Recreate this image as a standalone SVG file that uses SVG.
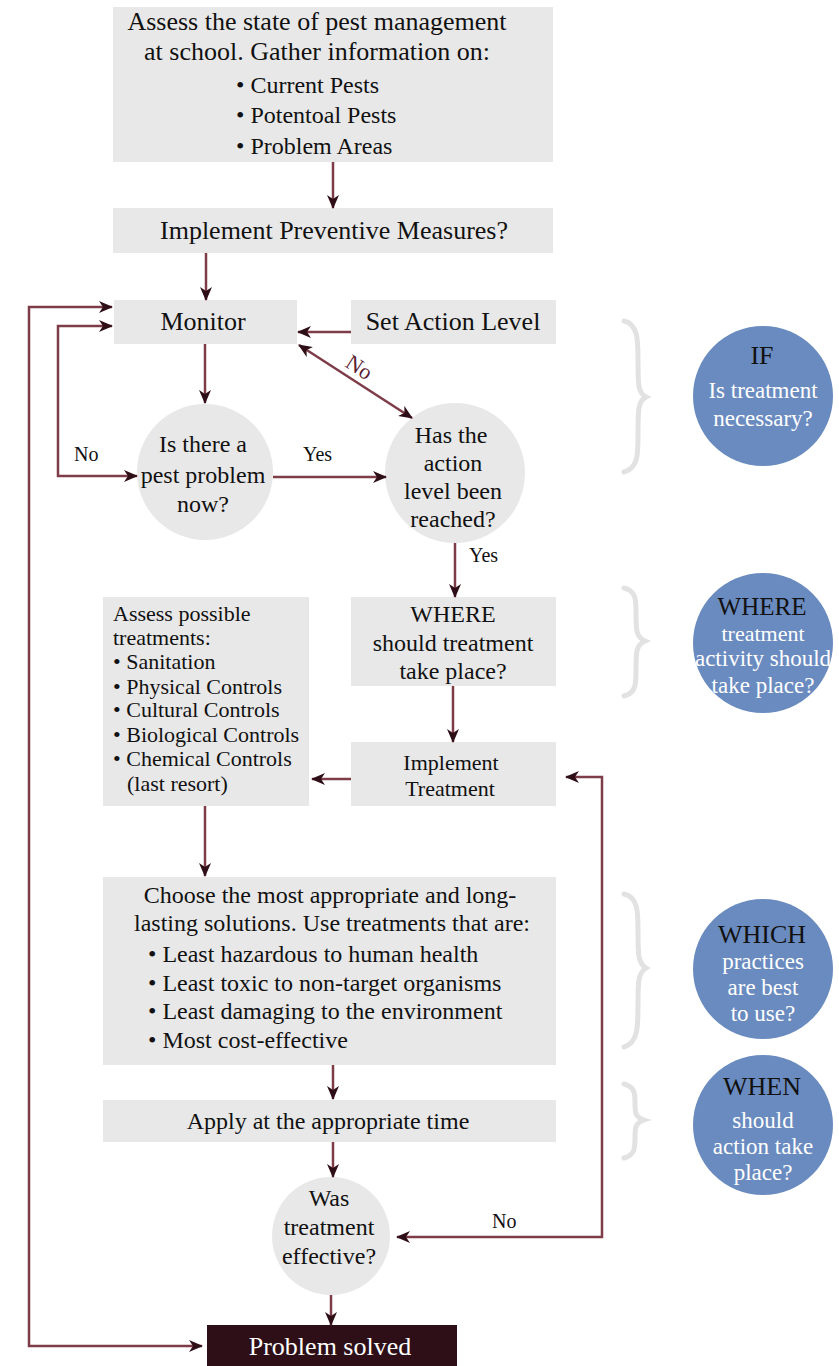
<svg xmlns="http://www.w3.org/2000/svg" width="839" height="1366" viewBox="0 0 839 1366">
<style>
text{font-family:"Liberation Serif","Times New Roman",serif;fill:#111}
.box{fill:#e8e8e8}
.c{text-anchor:middle}
.t22{font-size:26px}
.t21{font-size:24px}
.t19{font-size:22px}
.t17{font-size:20px}
.blue{fill:#6a8bbf}
.hd{font-size:26px;fill:#111;text-anchor:middle}
.wt{font-size:23px;fill:#fff;text-anchor:middle}
.brace{fill:none;stroke:#e2e2e2;stroke-width:5;stroke-linecap:round}
.ln{fill:none;stroke:#7d3c48;stroke-width:2.5}
</style>
<defs>
<marker id="ah" viewBox="0 0 14 12" refX="13" refY="6" markerWidth="14" markerHeight="12" markerUnits="userSpaceOnUse" orient="auto-start-reverse">
<path d="M0,0 L14,6 L0,12 L4,6 z" fill="#2e0f17"/>
</marker>
</defs>

<g id="assess-state">
<rect class="box" x="113" y="7" width="440" height="155"/>
<text class="t22 c" x="317" y="30">Assess the state of pest management</text>
<text class="t22 c" x="317" y="60">at school. Gather information on:</text>
<text class="t21" x="236" y="93">• Current Pests</text>
<text class="t21" x="236" y="123">• Potentoal Pests</text>
<text class="t21" x="236" y="154">• Problem Areas</text>
</g>

<g id="preventive">
<rect class="box" x="113" y="208" width="440" height="45"/>
<text class="t22 c" x="334" y="239">Implement Preventive Measures?</text>
</g>

<g id="monitor">
<rect class="box" x="114" y="300" width="183" height="44"/>
<text class="t22 c" x="203" y="330">Monitor</text>
</g>

<g id="set-action-level">
<rect class="box" x="351" y="300" width="205" height="44"/>
<text class="t22 c" x="453" y="330">Set Action Level</text>
</g>

<g id="pest-problem">
<circle class="box" cx="205" cy="472" r="68"/>
<text class="t21 c" x="203" y="452">Is there a</text>
<text class="t21 c" x="203" y="483">pest problem</text>
<text class="t21 c" x="203" y="512">now?</text>
</g>

<g id="action-level">
<circle class="box" cx="455" cy="473" r="70"/>
<text class="t21 c" x="451" y="443">Has the</text>
<text class="t21 c" x="453" y="471">action</text>
<text class="t21 c" x="453" y="499">level been</text>
<text class="t21 c" x="453" y="527">reached?</text>
</g>

<g id="where-box">
<rect class="box" x="351" y="597" width="205" height="89"/>
<text class="t21 c" x="453" y="622">WHERE</text>
<text class="t21 c" x="453" y="651">should treatment</text>
<text class="t21 c" x="453" y="679">take place?</text>
</g>

<g id="implement-treatment">
<rect class="box" x="351" y="742" width="205" height="64"/>
<text class="t19 c" x="451" y="770">Implement</text>
<text class="t19 c" x="450" y="796">Treatment</text>
</g>

<g id="assess-treatments">
<rect class="box" x="103" y="597" width="206" height="209"/>
<text class="t19" x="113" y="621">Assess possible</text>
<text class="t19" x="113" y="645">treatments:</text>
<text class="t19" x="113" y="669">• Sanitation</text>
<text class="t19" x="113" y="694">• Physical Controls</text>
<text class="t19" x="113" y="717">• Cultural Controls</text>
<text class="t19" x="113" y="742">• Biological Controls</text>
<text class="t19" x="113" y="766">• Chemical Controls</text>
<text class="t19" x="127" y="791">(last resort)</text>
</g>

<g id="choose">
<rect class="box" x="103" y="877" width="453" height="188"/>
<text class="t21 c" x="330" y="903">Choose the most appropriate and long-</text>
<text class="t21 c" x="332" y="931">lasting solutions. Use treatments that are:</text>
<text class="t21" x="148" y="962">• Least hazardous to human health</text>
<text class="t21" x="148" y="991">• Least toxic to non-target organisms</text>
<text class="t21" x="148" y="1019">• Least damaging to the environment</text>
<text class="t21" x="148" y="1048">• Most cost-effective</text>
</g>

<g id="apply">
<rect class="box" x="103" y="1100" width="453" height="42"/>
<text class="t21 c" x="328" y="1129">Apply at the appropriate time</text>
</g>

<g id="effective">
<circle class="box" cx="331" cy="1236" r="59"/>
<text class="t21 c" x="329" y="1206">Was</text>
<text class="t21 c" x="329" y="1235">treatment</text>
<text class="t21 c" x="329" y="1264">effective?</text>
</g>

<g id="problem-solved">
<rect x="207" y="1325" width="250" height="41" fill="#2e0f17"/>
<text class="t22 c" x="330" y="1355" style="fill:#fff">Problem solved</text>
</g>

<g id="braces">
<path class="brace" d="M624,321 C638,324 638,340 638,360 C638,385 638,393 646,397 C638,401 638,410 638,435 C638,455 638,468 624,472"/>
<path class="brace" d="M624,588 C636,591 636,600 636,612 C636,630 636,637 645,641 C636,645 636,652 636,670 C636,684 636,693 624,696"/>
<path class="brace" d="M624,894 C638,897 638,912 638,930 C638,955 638,963 646,968 C638,973 638,981 638,1006 C638,1026 638,1043 624,1047"/>
<path class="brace" d="M624,1084 C635,1087 635,1094 635,1102 C635,1113 635,1117 644,1120 C635,1123 635,1128 635,1138 C635,1148 635,1155 624,1158"/>
</g>

<g id="if-circle">
<circle class="blue" cx="763" cy="396" r="70"/>
<text class="hd" x="762" y="364">IF</text>
<text class="wt" x="763" y="398">Is treatment</text>
<text class="wt" x="763" y="426">necessary?</text>
</g>

<g id="where-circle">
<circle class="blue" cx="763" cy="643" r="70"/>
<text class="hd" x="762" y="615" style="font-size:25px">WHERE</text>
<text class="wt" x="763" y="641" style="font-size:22px">treatment</text>
<text class="wt" x="763" y="666">activity should</text>
<text class="wt" x="763" y="693">take place?</text>
</g>

<g id="which-circle">
<circle class="blue" cx="763" cy="969" r="70"/>
<text class="hd" x="762" y="943">WHICH</text>
<text class="wt" x="763" y="969">practices</text>
<text class="wt" x="763" y="995">are best</text>
<text class="wt" x="763" y="1021">to use?</text>
</g>

<g id="when-circle">
<circle class="blue" cx="763" cy="1125" r="70"/>
<text class="hd" x="762" y="1095">WHEN</text>
<text class="wt" x="763" y="1128">should</text>
<text class="wt" x="763" y="1154">action take</text>
<text class="wt" x="763" y="1180">place?</text>
</g>

<g id="connectors">
<path class="ln" d="M333,162 V208" marker-end="url(#ah)"/>
<path class="ln" d="M206,253 V300" marker-end="url(#ah)"/>
<path class="ln" d="M351,332 H298" marker-end="url(#ah)"/>
<path class="ln" d="M205,344 V403" marker-end="url(#ah)"/>
<path class="ln" d="M299,345 L412,418" marker-start="url(#ah)" marker-end="url(#ah)"/>
<path class="ln" d="M273,477 H386" marker-end="url(#ah)"/>
<path class="ln" d="M58,400 V326 H112" marker-end="url(#ah)"/>
<path class="ln" d="M58,400 V476 H137" marker-end="url(#ah)"/>
<path class="ln" d="M29,800 V307 H112" marker-end="url(#ah)"/>
<path class="ln" d="M29,800 V1346 H202" marker-end="url(#ah)"/>
<path class="ln" d="M455,543 V597" marker-end="url(#ah)"/>
<path class="ln" d="M453,686 V742" marker-end="url(#ah)"/>
<path class="ln" d="M351,779 H312" marker-end="url(#ah)"/>
<path class="ln" d="M205,806 V876" marker-end="url(#ah)"/>
<path class="ln" d="M333,1065 V1099" marker-end="url(#ah)"/>
<path class="ln" d="M333,1142 V1177" marker-end="url(#ah)"/>
<path class="ln" d="M331,1295 V1325" marker-end="url(#ah)"/>
<path class="ln" d="M602,1000 V777 H566" marker-end="url(#ah)"/>
<path class="ln" d="M602,1000 V1237 H397" marker-end="url(#ah)"/>
<text class="t17" x="74" y="461">No</text>
<text class="t17" x="303" y="461">Yes</text>
<text class="t17" x="469" y="562">Yes</text>
<text class="t17" x="492" y="1228">No</text>
<text x="0" y="0" transform="translate(344,366) rotate(33)" style="fill:#5a2030;font-size:22px">No</text>
</g>
</svg>
